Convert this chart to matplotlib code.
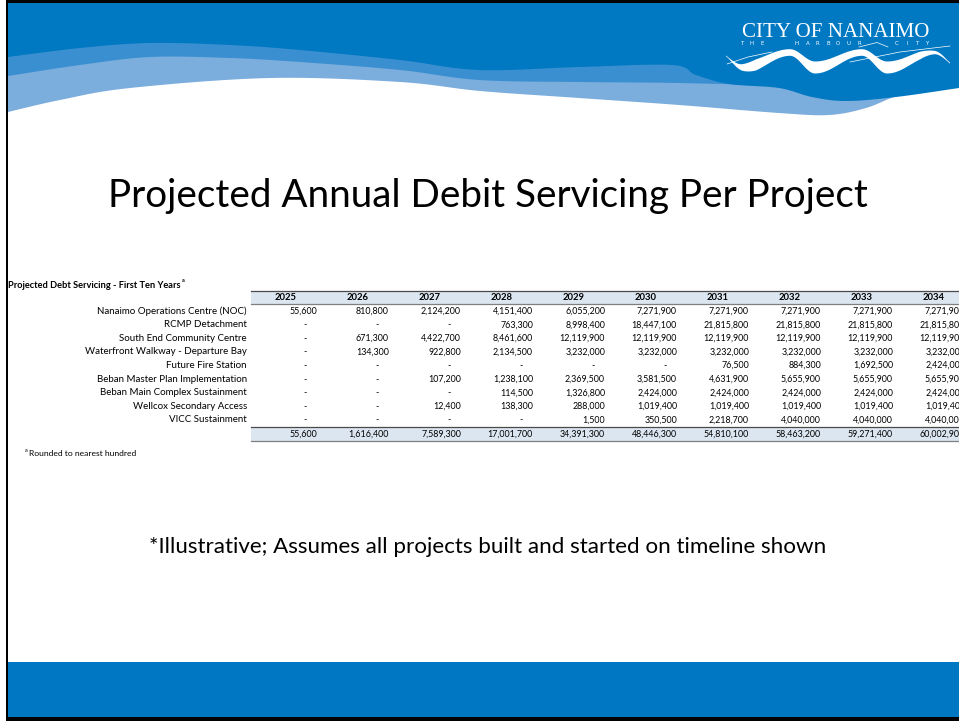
import matplotlib
matplotlib.use("Agg")
import matplotlib.pyplot as plt
import numpy as np
from matplotlib.patches import Polygon, Rectangle

# ---------------- data ----------------
years = [2025, 2026, 2027, 2028, 2029, 2030, 2031, 2032, 2033, 2034]
projects = [
    "Nanaimo Operations Centre (NOC)",
    "RCMP Detachment",
    "South End Community Centre",
    "Waterfront Walkway - Departure Bay",
    "Future Fire Station",
    "Beban Master Plan Implementation",
    "Beban Main Complex Sustainment",
    "Wellcox Secondary Access",
    "VICC Sustainment",
]
noc = [55600, 810800, 2124200, 4151400, 6055200, 7271900, 7271900, 7271900, 7271900, 7271900]
rcmp = [None, None, None, 763300, 8998400, 18447100, 21815800, 21815800, 21815800, 21815800]
south_end = [None, 671300, 4422700, 8461600, 12119900, 12119900, 12119900, 12119900, 12119900, 12119900]
waterfront = [None, 134300, 922800, 2134500, 3232000, 3232000, 3232000, 3232000, 3232000, 3232000]
fire_station = [None, None, None, None, None, None, 76500, 884300, 1692500, 2424000]
beban_plan = [None, None, 107200, 1238100, 2369500, 3581500, 4631900, 5655900, 5655900, 5655900]
beban_main = [None, None, None, 114500, 1326800, 2424000, 2424000, 2424000, 2424000, 2424000]
wellcox = [None, None, 12400, 138300, 288000, 1019400, 1019400, 1019400, 1019400, 1019400]
vicc = [None, None, None, None, 1500, 350500, 2218700, 4040000, 4040000, 4040000]
totals = [55600, 1616400, 7589300, 17001700, 34391300, 48446300, 54810100, 58463200, 59271400, 60002900]
rows = [noc, rcmp, south_end, waterfront, fire_station, beban_plan, beban_main, wellcox, vicc]

title = "Projected Annual Debit Servicing Per Project"
table_title = "Projected Debt Servicing - First Ten Years"
footnote = "Rounded to nearest hundred"
subtitle = "*Illustrative; Assumes all projects built and started on timeline shown"

# ---------------- figure ----------------
W, H = 959, 721
fig = plt.figure(figsize=(W / 100, H / 100), dpi=100)
ax = fig.add_axes([0, 0, 1, 1])
ax.set_xlim(0, W)
ax.set_ylim(H, 0)
ax.axis("off")
renderer = fig.canvas.get_renderer()

FONT = "Lato"
DARK = "#0078C2"
MED = "#3A8FD0"
LIGHT = "#7BADDD"


def fit_text(x, y, s, width, **kw):
    t = ax.text(x, y, s, fontsize=10, **kw)
    bb = t.get_window_extent(renderer)
    t.set_fontsize(10 * width / bb.width)
    return t


def catmull(pts, n=16):
    p = np.array(pts, dtype=float)
    p = np.vstack([p[0], p, p[-1]])
    out = []
    for i in range(1, len(p) - 2):
        p0, p1, p2, p3 = p[i - 1], p[i], p[i + 1], p[i + 2]
        for t in np.linspace(0, 1, n, endpoint=False):
            t2, t3 = t * t, t * t * t
            out.append(0.5 * ((2 * p1) + (-p0 + p2) * t + (2 * p0 - 5 * p1 + 4 * p2 - p3) * t2
                              + (-p0 + 3 * p1 - 3 * p2 + p3) * t3))
    out.append(p[-2])
    return np.array(out)


def band(curve_pts, color):
    c = catmull(curve_pts)
    poly = np.vstack([[[8, 0]], c, [[W, 0]]])
    ax.add_patch(Polygon(poly, closed=True, facecolor=color, edgecolor="none", zorder=1))


# header waves
band([(8, 112), (60, 100), (130, 88), (270, 78), (400, 82), (480, 91), (579, 98), (679, 105),
      (779, 113), (829, 115), (866, 108), (900, 95), (959, 80)], LIGHT)
band([(8, 76), (80, 65), (150, 57), (230, 58), (300, 62), (400, 70), (479, 80), (579, 82),
      (679, 83), (779, 86), (830, 90), (900, 80), (959, 60)], MED)
band([(8, 57), (80, 48), (150, 43), (230, 45), (300, 50), (400, 60), (479, 70), (579, 67),
      (672, 65), (696, 75), (729, 84), (779, 88), (812, 97), (846, 101), (896, 97), (959, 88)], DARK)

# logo
fit_text(742, 37, "CITY OF NANAIMO", 187, family="Liberation Serif", color="white",
         ha="left", va="baseline", zorder=3)
for s, x0, x1 in [("THE", 742, 762), ("HARBOUR", 797, 859), ("CITY", 897, 927)]:
    xs = np.linspace(x0, x1, len(s))
    for ch, xx in zip(s, xs):
        ax.text(xx, 43.5, ch, fontsize=4, family="DejaVu Sans", color="white",
                ha="center", va="center", zorder=3)
ax.plot([859, 877, 888], [47, 42.5, 47], color="white", lw=0.5, zorder=3)


def ribbon(x0, x1, crests, amp, base, thick, phase_skew=0.35):
    xs = np.linspace(x0, x1, 240)
    per = crests[1] - crests[0]
    ph = ((xs - crests[0]) / per) % 1.0
    w = np.where(ph < phase_skew, np.cos(np.pi * ph / phase_skew),
                 -np.cos(np.pi * (ph - phase_skew) / (1 - phase_skew)))
    yc = base - amp * w
    taper = np.clip(np.minimum((xs - x0) / 30, (x1 - xs) / 30), 0.1, 1)
    th = thick * taper * (0.55 + 0.45 * (1 - w) / 2)
    top = np.column_stack([xs, yc - th / 2])
    bot = np.column_stack([xs[::-1], (yc + th / 2)[::-1]])
    ax.add_patch(Polygon(np.vstack([top, bot]), closed=True, facecolor="white",
                         edgecolor="none", zorder=3))


ribbon(726, 950, [790, 862], 7.5, 60, 12)
ax.plot([727, 748, 772], [64, 57, 52], color="white", lw=0.5, zorder=3)
ax.plot([850, 900, 950], [62, 52, 46], color="white", lw=0.5, zorder=3)

# bottom bar and borders
ax.add_patch(Rectangle((8, 662), W - 8, 56, facecolor="#0077C3", edgecolor="none", zorder=1))
ax.add_patch(Rectangle((5.5, 0), W, 3, facecolor="black", edgecolor="none", zorder=5))
ax.add_patch(Rectangle((5.5, 717), W, 4, facecolor="black", edgecolor="none", zorder=5))
ax.add_patch(Rectangle((5.5, 0), 2.5, H, facecolor="black", edgecolor="none", zorder=5))

# titles
fit_text(487.5, 207, title, 761, family=FONT, color="black", ha="center", va="baseline", zorder=4)
fit_text(488, 553, subtitle, 676, family=FONT, color="black", ha="center", va="baseline", zorder=4)

# table
t = fit_text(8, 285, table_title, 174, family=FONT, fontweight="bold", color="black",
             ha="left", va="center", zorder=4)
bb = t.get_window_extent(renderer)
ax.text(bb.x1 + 1.5, 281, "a", fontsize=4, family=FONT, fontweight="bold", ha="left",
        va="center", zorder=4)

ax.text(25, 451, "a", fontsize=4, family=FONT, ha="left", va="center", zorder=4)
fit_text(29, 453, footnote, 107, family=FONT, ha="left", va="center", zorder=4)

x_band0 = 251
row_y0 = 311.2
row_dy = 13.6
head_y = 297.2
tot_y = row_y0 + row_dy * len(rows) + 0.4

for y0, y1 in [(290.5, 304), (427, 440.5)]:
    ax.add_patch(Rectangle((x_band0, y0), W - x_band0, y1 - y0, facecolor="#DCE6F1",
                           edgecolor="none", zorder=2))
    ax.plot([x_band0, W], [y0, y0], color="#4a4a4a", lw=0.9, zorder=3)
    ax.plot([x_band0, W], [y1, y1], color="#7f7f7f", lw=0.9, zorder=3)

probe = ax.text(0, 0, "12,119,900", fontsize=10, family=FONT)
num_fs = 10 * 45 / probe.get_window_extent(renderer).width
probe.remove()
probe = ax.text(0, 0, projects[0], fontsize=10, family=FONT)
lab_fs = 10 * 150 / probe.get_window_extent(renderer).width
probe.remove()

col_right0 = 317
col_dx = 72
for j, yr in enumerate(years):
    xr = col_right0 + col_dx * j
    ax.text(286 + col_dx * j, head_y, str(yr), fontsize=num_fs * 1.08, fontweight="bold",
            family=FONT, ha="center", va="center", zorder=4)
    for i, r in enumerate(rows):
        y = row_y0 + row_dy * i
        v = r[j]
        if v is None:
            ax.text(xr - 12, y, "-", fontsize=num_fs, family=FONT, ha="center", va="center", zorder=4)
        else:
            ax.text(xr, y, f"{v:,}", fontsize=num_fs, family=FONT, ha="right", va="center", zorder=4)
    ax.text(xr, tot_y, f"{totals[j]:,}", fontsize=num_fs, family=FONT, ha="right", va="center",
            zorder=4)

for i, name in enumerate(projects):
    ax.text(247, row_y0 + row_dy * i, name, fontsize=lab_fs, family=FONT, ha="right",
            va="center", zorder=4)

fig.savefig("out.png", dpi=100)
